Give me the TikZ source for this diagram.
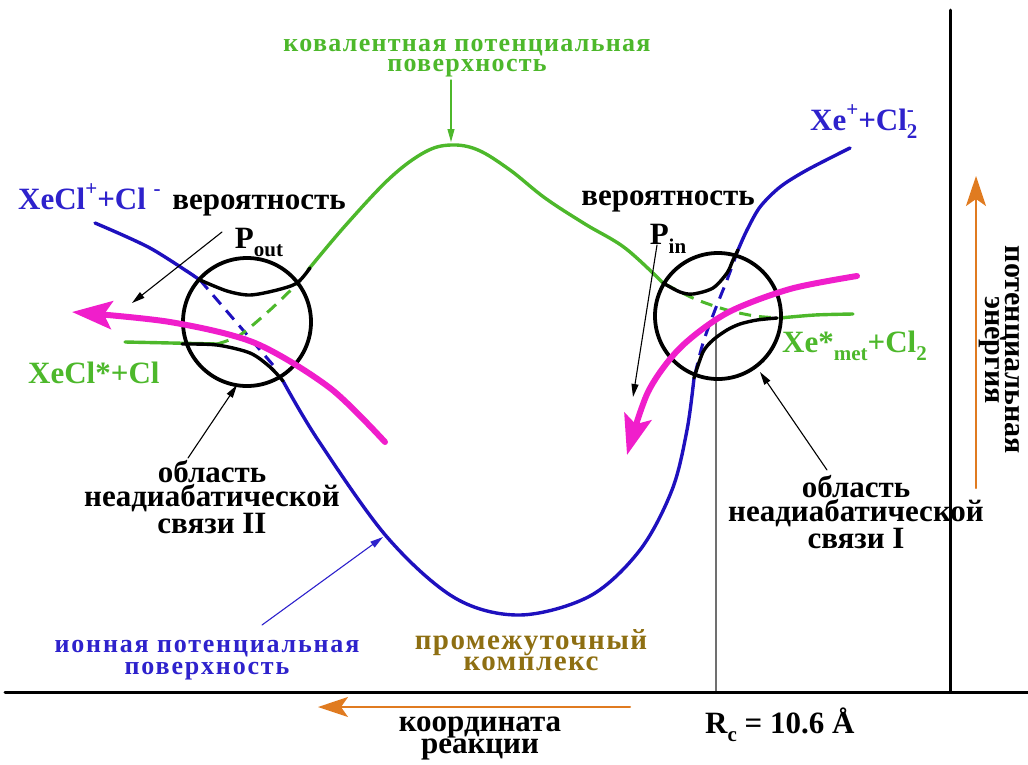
\documentclass[tikz,border=0pt]{standalone}
\usepackage{fontspec}
\setmainfont{Liberation Serif}
\usetikzlibrary{arrows.meta}

\definecolor{ionblue}{HTML}{1E10BE}
\definecolor{ionlabel}{HTML}{2E22CC}
\definecolor{covgreen}{HTML}{4DB82B}
\definecolor{pathpink}{HTML}{F01ECB}
\definecolor{axisorange}{HTML}{E07B20}
\definecolor{cplxbrown}{HTML}{8E6F12}
\definecolor{rcgray}{HTML}{707070}

% raised and lowered indices, a little larger than \textsuperscript gives
\newcommand\upidx[1]{\raisebox{0.42em}{\fontsize{21}{21}\selectfont #1}}
\newcommand\dnidx[1]{\raisebox{-0.28em}{\fontsize{21}{21}\selectfont #1}}

\begin{document}
\begin{tikzpicture}[
  x=1pt, y=-1pt,
  line join=round, line cap=round,
  surf/.style={line width=3.4pt},
  hidden/.style={line width=3pt, dash pattern=on 12pt off 8pt, line cap=butt},
  ring/.style={line width=3.8pt},
  route/.style={line width=6pt, pathpink, -{Stealth[length=40pt,width=28pt,inset=8pt]}},
  pointer/.style={line width=1.1pt, -{Triangle[length=13pt,width=7pt]}},
  axisarrow/.style={line width=2pt, axisorange, -{Stealth[length=30pt,width=20pt,inset=7pt]}},
  lbl/.style={font=\bfseries\fontsize{31}{24}\selectfont, align=center, inner sep=0pt},
  chem/.style={font=\bfseries\fontsize{31}{31}\selectfont, inner sep=0pt, anchor=base west},
]
\useasboundingbox (0,0) rectangle (1028,764);

% ── axes and the crossing distance ────────────────────────────────────────
\coordinate (origin) at (950,692);
\coordinate (xleft) at (5,692);
\coordinate (xright) at (1028,692);
\coordinate (ytop) at (950,10);
\coordinate (rctop) at (716,318);
\coordinate (rcfoot) at (716,692);
\draw[line width=1.4pt, rcgray] (rctop) -- (rcfoot);
\draw[line width=3pt] (xleft) -- (xright);
\draw[line width=3pt] (ytop) -- (origin);

\coordinate (coordtail) at (630,707);
\coordinate (coordhead) at (318,707);
\coordinate (energytail) at (976,488);
\coordinate (energyhead) at (976,176);
\draw[axisarrow] (coordtail) -- (coordhead);
\draw[axisarrow] (energytail) -- (energyhead);

% ── ionic surface (blue) ──────────────────────────────────────────────────
\draw[surf, ionblue] plot[smooth] coordinates {(95,223) (150,248) (200,280)};
\draw[hidden, ionblue] (200,280) -- (273,365);
\draw[surf, ionblue] plot[smooth, tension=0.55] coordinates {
  (283,381) (318,440) (387,537) (455,598) (520,615) (590,596)
  (640,550) (672,490) (687,430) (694,378)};
\draw[hidden, ionblue] plot[smooth] coordinates {(738,250) (727,280) (715,310) (703,343) (694,378)};
\draw[surf, ionblue] plot[smooth] coordinates {(738,250) (747,230) (760,207) (780,187) (807,170) (850,148)};

% ── covalent surface (green) ──────────────────────────────────────────────
\draw[surf, covgreen] (125,342) -- (217,344);
\draw[hidden, covgreen] plot[smooth] coordinates {(217,344) (240,335) (270,310) (297,284)};
\draw[surf, covgreen] plot[smooth, tension=0.6] coordinates {
  (308,270) (345,226) (390,178) (425,152) (451,145) (478,150) (510,170)
  (545,198) (585,224) (625,248) (663,283)};
\draw[hidden, covgreen] plot[smooth] coordinates {(665,284) (695,299) (727,310) (755,316) (780,318)};
\draw[surf, covgreen] plot[smooth] coordinates {(780,318) (815,315) (853,314)};

% ── the two crossing regions, with the adiabatic branches ─────────────────
\node[circle, draw, ring, minimum size=128pt, inner sep=0pt] (crossout) at (247,322) {};
\node[circle, draw, ring, minimum size=126pt, inner sep=0pt] (crossin) at (718,316) {};
\draw[surf] plot[smooth] coordinates {(200,280) (227,291) (250,295) (277,290) (297,283) (310,268)};
\draw[surf] plot[smooth] coordinates {(182,344) (217,345) (250,353) (270,367) (283,381)};
\draw[surf] plot[smooth] coordinates {(663,283) (680,292) (693,294) (713,288) (727,273) (733,260) (738,250)};
\draw[surf] plot[smooth] coordinates {(694,378) (703,352) (713,340) (727,330) (740,324) (757,320) (777,318)};

% ── reaction paths ────────────────────────────────────────────────────────
\draw[route] plot[smooth] coordinates {(385,442) (330,388) (255,343) (170,322) (72,312)};
\draw[route] plot[smooth] coordinates {(857,276) (790,289) (727,313) (680,348) (648,392) (627,455)};

% ── labels ────────────────────────────────────────────────────────────────
\node[chem, ionlabel] (xeclion) at (18,209) {XeCl\upidx{+}+Cl \upidx{-}};
\node[chem, covgreen] (xeclcov) at (28,383) {XeCl*+Cl};
\node[chem, ionlabel] (xeion) at (810,130) {Xe\upidx{+}+Cl\rlap{\dnidx{2}}\upidx{-}};
\node[chem, covgreen] (xecov) at (782,352) {Xe*\dnidx{met}+Cl\dnidx{2}};

\node[lbl] (probout) at (259,226) {вероятность\\[11pt]P\dnidx{out}};
\node[lbl] (probin) at (668,222) {вероятность\\[11pt]P\dnidx{in}};
\node[lbl] (regtwo) at (212,497) {область\\неадиабатической\\связи II};
\node[lbl] (regone) at (856,512) {область\\неадиабатической\\связи I};

\node[lbl, covgreen, font=\bfseries\fontsize{26}{20}\selectfont\addfontfeature{LetterSpace=5}]
  (covsurf) at (467,58) {ковалентная потенциальная\\поверхность};
\node[lbl, ionlabel, font=\bfseries\fontsize{26}{22}\selectfont\addfontfeature{LetterSpace=7}]
  (ionsurf) at (207,660) {ионная потенциальная\\поверхность};
\node[lbl, cplxbrown, font=\bfseries\fontsize{29}{21}\selectfont\addfontfeature{LetterSpace=5}]
  (complex) at (531,650) {промежуточный\\комплекс};

\node[lbl, font=\bfseries\fontsize{31}{22}\selectfont] (coordlbl) at (480,738) {координата\\реакции};
\node[chem] (rcval) at (705,733) {R\dnidx{c} = 10.6 Å};
\node[lbl, font=\bfseries\fontsize{30}{20}\selectfont, rotate=-90] (energylbl) at (999,350) {потенциальная\\энергия};

% ── pointers from the labels ──────────────────────────────────────────────
\coordinate (outfrom) at (222,232);  \coordinate (outto) at (132,303);
\coordinate (infrom) at (657,245);   \coordinate (into) at (633,397);
\coordinate (twofrom) at (188,458);  \coordinate (twoto) at (237,385);
\coordinate (onefrom) at (827,470);  \coordinate (oneto) at (760,372);
\coordinate (ionfrom) at (262,625);  \coordinate (ionto) at (383,537);
\coordinate (covfrom) at (451,80);   \coordinate (covto) at (451,142);
\draw[pointer] (outfrom) -- (outto);
\draw[pointer] (infrom) -- (into);
\draw[pointer] (twofrom) -- (twoto);
\draw[pointer] (onefrom) -- (oneto);
\draw[pointer, ionlabel] (ionfrom) -- (ionto);
\draw[pointer, covgreen] (covfrom) -- (covto);

\end{tikzpicture}
\end{document}
